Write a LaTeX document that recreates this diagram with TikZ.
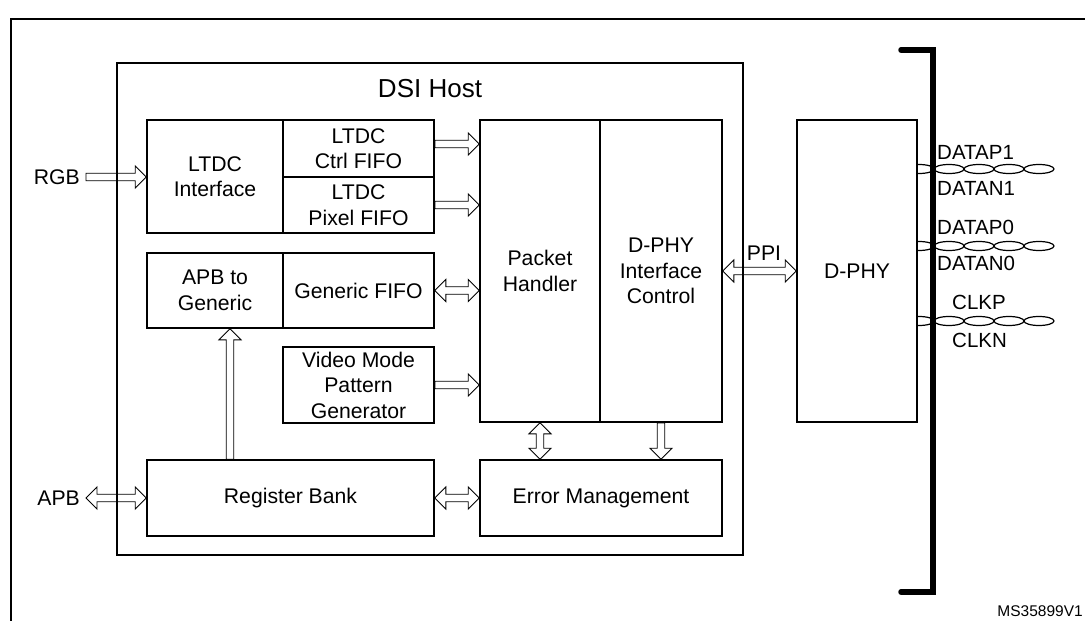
\documentclass[tikz,border=0pt]{standalone}
\usepackage{fontspec}
\setmainfont{Liberation Sans}
\usepackage{tikz}
\usetikzlibrary{
	arrows.meta,
	positioning,
	calc
}
\usepackage{xcolor}

% hollow bus arrow, one head
\newcommand{\busarrow}[2]{%
	\draw[busline] let \p1=(#1), \p2=(#2),
	\n1={atan2(\y2-\y1,\x2-\x1)}, \n2={veclen(\x2-\x1,\y2-\y1)} in
	[shift={(\p1)}, rotate=\n1]
	(0pt,-3.75pt) -- ({\n2*1pt-11pt},-3.75pt) -- ({\n2*1pt-11pt},-11pt)
	-- ({\n2*1pt},0pt) -- ({\n2*1pt-11pt},11pt) -- ({\n2*1pt-11pt},3.75pt)
	-- (0pt,3.75pt) -- cycle;}

% hollow bus arrow, two heads
\newcommand{\busarrows}[2]{%
	\draw[busline] let \p1=(#1), \p2=(#2),
	\n1={atan2(\y2-\y1,\x2-\x1)}, \n2={veclen(\x2-\x1,\y2-\y1)} in
	[shift={(\p1)}, rotate=\n1]
	(0pt,0pt) -- (11pt,11pt) -- (11pt,3.75pt) -- ({\n2*1pt-11pt},3.75pt)
	-- ({\n2*1pt-11pt},11pt) -- ({\n2*1pt},0pt) -- ({\n2*1pt-11pt},-11pt)
	-- ({\n2*1pt-11pt},-3.75pt) -- (11pt,-3.75pt) -- (11pt,-11pt) -- cycle;}

\tikzset{
	blk/.style={draw, line width=1.6pt, inner sep=0pt, align=center,
		font=\fontsize{21.2}{25.5}\selectfont},
	lbl/.style={inner sep=0pt, font=\fontsize{21.2}{25.5}\selectfont},
	pairlbl/.style={anchor=west, inner sep=0pt, font=\fontsize{20.5}{24}\selectfont},
	busline/.style={draw, line width=0.9pt},
	pairline/.style={line width=1.2pt},
	frameline/.style={line width=2pt},
	bracketline/.style={line width=5.5pt, line cap=round}
}

\begin{document}
\begin{tikzpicture}[x=1pt, y=-1pt]
	
	\useasboundingbox (0,0) rectangle (1085,621);
	
	% Frame and bus bracket
	\draw[frameline] (11,621) -- (11,19) -- (1085,19);
	
	% DSI host
	\node[blk, minimum width=626pt, minimum height=492pt] (host) at (430,309) {};
	\node[lbl, font=\fontsize{26}{30}\selectfont] (hosttitle) at (430,89) {DSI Host};
	
	% LTDC side
	\node[blk, minimum width=136pt, minimum height=113pt] (ltdcif) at (215,176.5) {LTDC\\Interface};
	\node[blk, minimum width=151pt, minimum height=57pt] (ctrlfifo) at (358.5,148.5) {LTDC\\Ctrl FIFO};
	\node[blk, minimum width=151pt, minimum height=56pt] (pixfifo) at (358.5,205) {LTDC\\Pixel FIFO};
	
	% Generic side
	\node[blk, minimum width=136pt, minimum height=75pt] (apbgen) at (215,290.5) {APB to\\Generic};
	\node[blk, minimum width=151pt, minimum height=75pt] (genfifo) at (358.5,290.5) {Generic FIFO};
	\node[blk, minimum width=151pt, minimum height=76pt] (vidgen) at (358.5,385) {Video Mode\\Pattern\\Generator};
	
	% Core
	\node[blk, minimum width=120pt, minimum height=302pt] (pkthdl) at (540,271) {Packet\\Handler};
	\node[blk, minimum width=122pt, minimum height=302pt] (phyctl) at (661,271) {D-PHY\\Interface\\Control};
	\node[blk, minimum width=287pt, minimum height=76pt] (regbank) at (290.5,498) {Register Bank};
	\node[blk, minimum width=242pt, minimum height=76pt] (errmgmt) at (601,498) {Error Management};
	
	% PHY
	\node[blk, minimum width=120pt, minimum height=302pt] (dphy) at (857,271) {D-PHY};
	
	% Outside labels
	\node[lbl, anchor=east] (rgb) at (80,177) {RGB};
	\node[lbl, anchor=east] (apb) at (80,498) {APB};
	\node[lbl] (ppi) at (764,253) {PPI};
	
	% Buses
	\busarrow{[xshift=6pt]rgb.east}{rgb.east -| ltdcif.west}
	\coordinate (ctrlout) at ([yshift=4.5pt]ctrlfifo.east);
	\busarrow{ctrlout}{ctrlout -| pkthdl.west}
	\busarrow{pixfifo.east}{pixfifo.east -| pkthdl.west}
	\busarrows{genfifo.east}{genfifo.east -| pkthdl.west}
	\busarrow{vidgen.east}{vidgen.east -| pkthdl.west}
	\coordinate (cfgup) at ([xshift=-60.5pt]regbank.north);
	\busarrow{cfgup}{cfgup |- apbgen.south}
	\busarrows{[xshift=6pt]apb.east}{apb.east -| regbank.west}
	\busarrows{regbank.east}{errmgmt.west}
	\busarrows{pkthdl.south}{pkthdl.south |- errmgmt.north}
	\busarrow{phyctl.south}{phyctl.south |- errmgmt.north}
	\busarrows{phyctl.east}{dphy.west}
	
	% Twisted pairs
	\begin{scope}
		\clip (dphy.north east) rectangle (1085,621);
		\foreach \py in {169,246,321}
		\foreach \cx in {919,949,...,1039}
		\draw[pairline] (\cx,\py) ellipse [x radius=15pt, y radius=4.5pt];
	\end{scope}
	\node[pairlbl] (datap1) at (937,152) {DATAP1};
	\node[pairlbl] (datan1) at (937,188) {DATAN1};
	\node[pairlbl] (datap0) at (937,227) {DATAP0};
	\node[pairlbl] (datan0) at (937,263) {DATAN0};
	\node[pairlbl] (clkp) at (952,302) {CLKP};
	\node[pairlbl] (clkn) at (952,340) {CLKN};
	
	\draw[bracketline] (901,50) -- (933,50) -- (933,592) -- (901,592);
	
	\node[inner sep=0pt, anchor=east, font=\fontsize{15.5}{18}\selectfont] (figid) at (1083,611) {MS35899V1};
	
\end{tikzpicture}
\end{document}
